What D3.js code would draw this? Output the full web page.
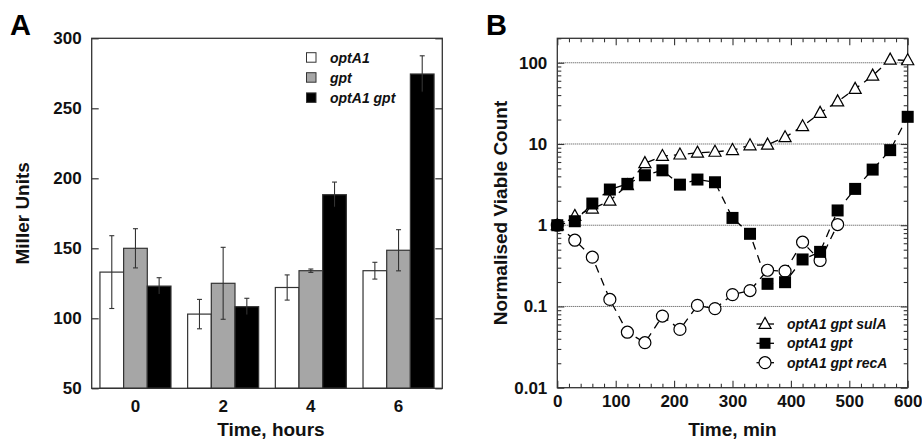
<!DOCTYPE html>
<html>
<head>
<meta charset="utf-8">
<script src="https://cdn.jsdelivr.net/npm/d3@7"></script>
<style>
  body { margin: 0; background: #fff; }
  svg { display: block; font-family: Arial, "Liberation Sans", sans-serif; }
  .tick text { font-size: 17px; font-weight: bold; fill: #111; }
</style>
</head>
<body>
<svg id="chart" width="922" height="442"></svg>
<script>
// ---------- Panel A data ----------
const categories = ["0", "2", "4", "6"];
const seriesNamesA = ["optA1", "gpt", "optA1 gpt"];
const optA1Values = [133, 103, 122, 134];
const optA1Errors = [26, 10.5, 9, 6];
const gptValues = [150, 125, 134, 148.6];
const gptErrors = [14, 25.7, 1.2, 14.7];
const optA1gptValues = [123, 108.3, 188.3, 274.5];
const optA1gptErrors = [6, 6, 9, 13];
const yTicksA = [50, 100, 150, 200, 250, 300];

// ---------- Panel B data ----------
const times = [0, 30, 60, 90, 120, 150, 180, 210, 240, 270, 300, 330, 360, 390, 420, 450, 480, 510, 540, 570, 600];
const sulAValues = [1, 1.3, 1.6, 2.0, 3.1, 5.8, 7.1, 7.4, 7.8, 8.0, 8.4, 9.6, 9.8, 12.1, 16.5, 24.1, 33.4, 47.6, 69.3, 109, 107];
const gptBValues = [1.0, 1.12, 1.85, 2.75, 3.23, 4.12, 4.74, 3.16, 3.65, 3.38, 1.23, 0.784, 0.19, 0.199, 0.379, 0.47, 1.52, 2.8, 4.84, 8.4, 21.6];
const recATimes = [0, 30, 60, 90, 120, 150, 180, 210, 240, 270, 300, 330, 360, 390, 420, 450, 480];
const recAValues = [1.0, 0.654, 0.404, 0.122, 0.0482, 0.0358, 0.0762, 0.0522, 0.103, 0.094, 0.14, 0.157, 0.279, 0.272, 0.618, 0.368, 1.02];
const seriesNamesB = ["optA1 gpt sulA", "optA1 gpt", "optA1 gpt recA"];
const xTicksB = [0, 100, 200, 300, 400, 500, 600];
const yTicksB = [0.01, 0.1, 1, 10, 100];
const gridB = [0.1, 1, 10, 100];

const svg = d3.select("#chart");
const frameColor = "#333";

// =============== PANEL A ===============
const A = { left: 91.7, right: 442.3, top: 38.3, bottom: 388.3 };
const gA = svg.append("g");
const xA = d3.scaleBand().domain(categories).range([A.left, A.right]).paddingInner(0.19).paddingOuter(0.094);
const xSub = d3.scaleBand().domain(seriesNamesA).range([0, xA.bandwidth()]);
const yA = d3.scaleLinear().domain([50, 300]).range([A.bottom, A.top]);
const fillsA = ["#ffffff", "#a6a6a6", "#000000"];
const valsA = [optA1Values, gptValues, optA1gptValues];
const errsA = [optA1Errors, gptErrors, optA1gptErrors];

const barData = [];
categories.forEach((c, i) => {
  seriesNamesA.forEach((s, j) => {
    barData.push({ c, s, j, v: valsA[j][i], e: errsA[j][i] });
  });
});

gA.selectAll("rect.bar").data(barData).join("rect")
  .attr("class", "bar")
  .attr("x", d => xA(d.c) + xSub(d.s))
  .attr("width", xSub.bandwidth())
  .attr("y", d => yA(d.v))
  .attr("height", d => yA(50) - yA(d.v))
  .attr("fill", d => fillsA[d.j])
  .attr("stroke", frameColor)
  .attr("stroke-width", 1.2);

// error bars
const eb = gA.selectAll("g.err").data(barData).join("g").attr("class", "err")
  .attr("transform", d => `translate(${xA(d.c) + xSub(d.s) + xSub.bandwidth() / 2},0)`);
eb.append("line").attr("y1", d => yA(d.v + d.e)).attr("y2", d => yA(d.v - d.e))
  .attr("stroke", "#333").attr("stroke-width", 1.1);
eb.append("line").attr("x1", -2.5).attr("x2", 2.5).attr("y1", d => yA(d.v + d.e)).attr("y2", d => yA(d.v + d.e))
  .attr("stroke", "#333").attr("stroke-width", 1.1);
eb.append("line").attr("x1", -2.5).attr("x2", 2.5).attr("y1", d => yA(d.v - d.e)).attr("y2", d => yA(d.v - d.e))
  .attr("stroke", d => d.j === 2 ? "#000" : "#333").attr("stroke-width", 1.1);

// frame
gA.append("rect").attr("x", A.left).attr("y", A.top).attr("width", A.right - A.left).attr("height", A.bottom - A.top)
  .attr("fill", "none").attr("stroke", frameColor).attr("stroke-width", 1.3);

// axes
const yAxisA = gA.append("g").attr("transform", `translate(${A.left},0)`)
  .call(d3.axisLeft(yA).tickValues(yTicksA).tickSize(-7).tickPadding(10));
yAxisA.select(".domain").remove();
yAxisA.selectAll(".tick line").attr("stroke", frameColor).attr("stroke-width", 1.2);
const yAxisAR = gA.append("g").attr("transform", `translate(${A.right},0)`)
  .call(d3.axisRight(yA).tickValues(yTicksA).tickSize(-7).tickFormat(""));
yAxisAR.select(".domain").remove();
yAxisAR.selectAll(".tick line").attr("stroke", frameColor).attr("stroke-width", 1.2);
const xAxisA = gA.append("g").attr("transform", `translate(0,${A.bottom})`)
  .call(d3.axisBottom(xA).tickSize(0).tickPadding(12));
xAxisA.select(".domain").remove();

gA.append("text").attr("x", (A.left + A.right) / 2 + 4).attr("y", 436).attr("text-anchor", "middle")
  .attr("font-size", 19).attr("font-weight", "bold").attr("fill", "#111").text("Time, hours");
gA.append("text").attr("transform", `translate(29,${(A.top + A.bottom) / 2}) rotate(-90)`).attr("text-anchor", "middle")
  .attr("font-size", 19).attr("font-weight", "bold").attr("fill", "#111").text("Miller Units");
gA.append("text").attr("x", 10).attr("y", 35).attr("font-size", 29).attr("font-weight", "bold").attr("fill", "#000").text("A");

// legend A
const legA = gA.append("g");
seriesNamesA.forEach((s, j) => {
  const yy = [57.5, 77.5, 97.7][j];
  legA.append("rect").attr("x", 306.5).attr("y", yy - 4.8).attr("width", 9.5).attr("height", 9.5)
    .attr("fill", fillsA[j]).attr("stroke", frameColor).attr("stroke-width", 1);
  legA.append("text").attr("x", 330).attr("y", yy + 5).attr("font-size", 14).attr("font-weight", "bold")
    .attr("font-style", "italic").attr("fill", "#111").text(s);
});

// =============== PANEL B ===============
const B = { left: 557.3, right: 907.7, top: 38.3, bottom: 387.7 };
const gB = svg.append("g");
const xB = d3.scaleLinear().domain([0, 600]).range([B.left, B.right]);
const yB = d3.scaleLog().domain([0.01, 200]).range([B.bottom, B.top]);

// grid
gB.selectAll("line.grid").data(gridB).join("line").attr("class", "grid")
  .attr("x1", B.left).attr("x2", B.right).attr("y1", d => yB(d)).attr("y2", d => yB(d))
  .attr("stroke", "#444").attr("stroke-width", 1).attr("stroke-dasharray", "1,1");

// minor ticks
const minorY = [];
[0.01, 0.1, 1, 10, 100].forEach(dec => { for (let k = 2; k <= 9; k++) { const v = +(dec * k).toPrecision(3); if (v <= 200) minorY.push(v); } });
const minorX = d3.range(0, 601, 20).filter(v => v % 100 !== 0);

function styleAxis(g) { g.select(".domain").remove(); g.selectAll(".tick line").attr("stroke", frameColor).attr("stroke-width", 1.1); }

gB.append("g").attr("transform", `translate(${B.left},0)`).call(d3.axisLeft(yB).tickValues(minorY).tickSize(-4).tickFormat("")).call(styleAxis);
gB.append("g").attr("transform", `translate(${B.right},0)`).call(d3.axisRight(yB).tickValues(minorY).tickSize(-4).tickFormat("")).call(styleAxis);
gB.append("g").attr("transform", `translate(${B.right},0)`).call(d3.axisRight(yB).tickValues(yTicksB).tickSize(-7).tickFormat("")).call(styleAxis);
gB.append("g").attr("transform", `translate(${B.left},0)`).call(d3.axisLeft(yB).tickValues(yTicksB).tickSize(-7).tickPadding(10).tickFormat(d => String(d))).call(styleAxis);
gB.append("g").attr("transform", `translate(0,${B.bottom})`).call(d3.axisBottom(xB).tickValues(minorX).tickSize(-4).tickFormat("")).call(styleAxis);
gB.append("g").attr("transform", `translate(0,${B.top})`).call(d3.axisTop(xB).tickValues(minorX).tickSize(-4).tickFormat("")).call(styleAxis);
gB.append("g").attr("transform", `translate(0,${B.top})`).call(d3.axisTop(xB).tickValues(xTicksB).tickSize(-7).tickFormat("")).call(styleAxis);
gB.append("g").attr("transform", `translate(0,${B.bottom})`).call(d3.axisBottom(xB).tickValues(xTicksB).tickSize(-7).tickPadding(7).tickFormat(d3.format("d"))).call(styleAxis);

// frame
gB.append("rect").attr("x", B.left).attr("y", B.top).attr("width", B.right - B.left).attr("height", B.bottom - B.top)
  .attr("fill", "none").attr("stroke", frameColor).attr("stroke-width", 1.3);

const line = d3.line().x(d => xB(d[0])).y(d => yB(d[1]));
const sulAData = times.map((t, i) => [t, sulAValues[i]]);
const gptBData = times.map((t, i) => [t, gptBValues[i]]);
const recAData = recATimes.map((t, i) => [t, recAValues[i]]);

[sulAData, recAData, gptBData].forEach(dat => {
  gB.append("path").datum(dat).attr("d", line).attr("fill", "none").attr("stroke", "#000")
    .attr("stroke-width", 1.3).attr("stroke-dasharray", "8,6");
});

const triPath = s => `M0,${-s * 0.6}L${s * 0.55},${s * 0.4}L${-s * 0.55},${s * 0.4}Z`;
function drawTri(g, x, y, s) {
  g.append("path").attr("d", triPath(s)).attr("transform", `translate(${x},${y})`)
    .attr("fill", "#fff").attr("stroke", "#000").attr("stroke-width", 1.2);
}
function drawCirc(g, x, y, r) {
  g.append("circle").attr("cx", x).attr("cy", y).attr("r", r)
    .attr("fill", "#fff").attr("stroke", "#000").attr("stroke-width", 1.2);
}
function drawSq(g, x, y, s) {
  g.append("rect").attr("x", x - s / 2).attr("y", y - s / 2).attr("width", s).attr("height", s).attr("fill", "#000");
}

sulAData.forEach(d => drawTri(gB, xB(d[0]), yB(d[1]), 11));
recAData.forEach(d => drawCirc(gB, xB(d[0]), yB(d[1]), 6));
gptBData.forEach(d => drawSq(gB, xB(d[0]), yB(d[1]), 12));

// legend B
const legRows = [324, 343.3, 362.7];
const markers = [
  (g, x, y) => drawTri(g, x, y, 11),
  (g, x, y) => drawSq(g, x, y, 11),
  (g, x, y) => drawCirc(g, x, y, 6)
];
seriesNamesB.forEach((s, j) => {
  const yy = legRows[j];
  gB.append("line").attr("x1", 756.5).attr("x2", 774).attr("y1", yy).attr("y2", yy).attr("stroke", "#000").attr("stroke-width", 1.3);
  markers[j](gB, 765, yy);
  gB.append("text").attr("x", 787).attr("y", yy + 5).attr("font-size", 14).attr("font-weight", "bold")
    .attr("font-style", "italic").attr("fill", "#111").text(s);
});

gB.append("text").attr("x", (B.left + B.right) / 2).attr("y", 436).attr("text-anchor", "middle")
  .attr("font-size", 19).attr("font-weight", "bold").attr("fill", "#111").text("Time, min");
gB.append("text").attr("transform", `translate(507,${(B.top + B.bottom) / 2}) rotate(-90)`).attr("text-anchor", "middle")
  .attr("font-size", 19).attr("font-weight", "bold").attr("fill", "#111").text("Normalised Viable Count");
gB.append("text").attr("x", 486).attr("y", 35).attr("font-size", 29).attr("font-weight", "bold").attr("fill", "#000").text("B");
</script>
</body>
</html>
